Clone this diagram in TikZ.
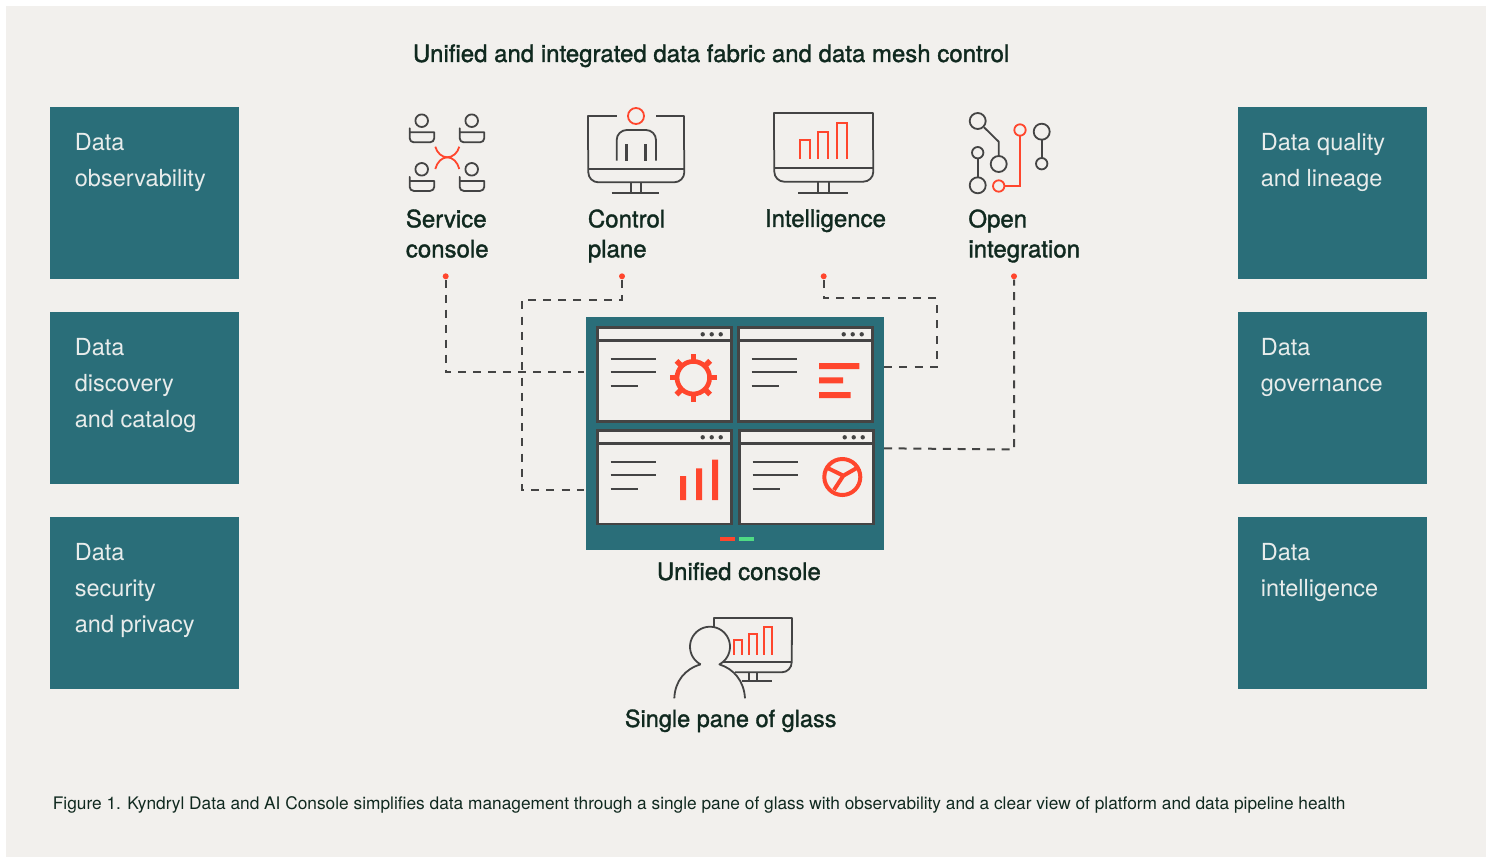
\documentclass[tikz,border=0pt]{standalone}
\usepackage{fontspec}
\setmainfont{TeX Gyre Heros}
\newfontfamily\labelfont[FakeBold=1.4]{TeX Gyre Heros}
\usetikzlibrary{positioning}

\definecolor{paper}{HTML}{F2F0ED}
\definecolor{teal}{HTML}{2A6E79}
\definecolor{ink}{HTML}{444444}
\definecolor{fire}{HTML}{FF462D}
\definecolor{leaf}{HTML}{4FDB84}
\definecolor{deep}{HTML}{10291F}
\definecolor{pale}{HTML}{E8ECEB}

\tikzset{
    tile/.style={fill=teal, text=pale, minimum width=94.5pt, minimum height=86pt, inner sep=0pt, outer sep=0pt},
    tiletext/.style={text=pale, font=\fontsize{11.75}{18}\selectfont, align=left, anchor=north west, inner sep=0pt},
    heading/.style={text=deep, font=\labelfont\fontsize{12}{15}\selectfont, align=left, anchor=north west, inner sep=0pt},
    icon/.style={draw=ink, line width=0.9pt, line join=round},
    hot/.style={draw=fire, line width=0.9pt},
    pin/.style={circle, fill=fire, inner sep=0pt, minimum size=3pt},
    dashline/.style={draw=ink, line width=1pt, dash pattern=on 4pt off 3.5pt},
    flame/.style={fill=fire},
}

\begin{document}
\begin{tikzpicture}[x=0.5pt, y=-0.5pt]

    % page
    \useasboundingbox (0,0) rectangle (1492,857);
    \fill[white] (0,0) rectangle (1492,857);
    \fill[paper] (6,6) rectangle (1486,857);

    % title
    \node[heading] (title) at (412.5,44) {Unified and integrated data fabric and data mesh control};

    % left column
    \node[tile, anchor=north west] (observe) at (50,107) {};
    \node[tile, below=16.5pt of observe] (discover) {};
    \node[tile, below=16.5pt of discover] (secure) {};
    \node[tiletext] (observe-text) at (74.5,132.8) {Data\\observability};
    \node[tiletext] (discover-text) at (74.5,337.8) {Data\\discovery\\and catalog};
    \node[tiletext] (secure-text) at (74.5,542.8) {Data\\security\\and privacy};

    % right column
    \node[tile, anchor=north west] (quality) at (1238,107) {};
    \node[tile, below=16.5pt of quality] (govern) {};
    \node[tile, below=16.5pt of govern] (intel) {};
    \node[tiletext] (quality-text) at (1260.5,132.8) {Data quality\\and lineage};
    \node[tiletext] (govern-text) at (1260.5,337.8) {Data\\governance};
    \node[tiletext] (intel-text) at (1260.5,542.8) {Data\\intelligence};

    % service console icon
    \foreach \px/\py in {421.7/120.7, 471.7/120.7, 421.7/169.3, 471.7/169.3} {
        \draw[icon] (\px,\py) circle (6.3);
        \draw[icon] (\px-12,\py+11.6) -- (\px+12.5,\py+11.6) [rounded corners=2pt] -- (\px+12.5,\py+21.6) -- (\px-12,\py+21.6) -- (\px-12,\py+11.6) [sharp corners] -- cycle;
    }
    \draw[hot] (435.3,146.7) .. controls (437,153) and (442,157.3) .. (447.3,157.3) .. controls (452.6,157.3) and (457.6,153) .. (459.3,146.7);
    \draw[hot] (435.3,169) .. controls (437,162) and (442,157.3) .. (447.3,157.3) .. controls (452.6,157.3) and (457.6,162) .. (459.3,169);
    \node[heading] (service) at (405.5,209) {Service\\console};

    % control plane icon
    \draw[icon] (616.7,115.7) -- (588.3,115.7) -- (588.3,150);
    \draw[icon] (656,115.7) -- (684.3,115.7) -- (684.3,150);
    \draw[icon, rounded corners=5pt] (588.3,150) -- (588.3,182.3) -- (684.3,182.3) -- (684.3,150);
    \draw[icon] (588.3,169) -- (684.3,169);
    \draw[icon] (630.7,182.3) -- (630.7,192.7) (640.7,182.3) -- (640.7,192.7) (611.7,192.7) -- (659.3,192.7);
    \draw[hot] (636,116) circle (8);
    \draw[icon, rounded corners=5pt] (616.7,160.7) -- (616.7,130) -- (656,130) -- (656,160.7);
    \draw[icon, line width=1.3pt] (626.7,144.3) -- (626.7,160.7) (645.3,144.3) -- (645.3,160.7);
    \node[heading] (control) at (587.5,209) {Control\\plane};

    % intelligence icon
    \draw[icon, rounded corners=5pt] (774.3,150) -- (774.3,181.7) -- (873.3,181.7) -- (873.3,150);
    \draw[icon] (774.3,150) -- (774.3,112.7) -- (873.3,112.7) -- (873.3,150);
    \draw[icon] (774.3,168.3) -- (873.3,168.3);
    \draw[icon] (818,181.7) -- (818,192.7) (829.3,181.7) -- (829.3,192.7) (798.3,192.7) -- (848.3,192.7);
    \foreach \bx/\btop in {799.7/139.7, 818/132, 837/123.3} {
        \draw[hot] (\bx,159) -- (\bx,\btop) -- (\bx+10,\btop) -- (\bx+10,159);
    }
    \node[heading] (intelligence) at (764.5,209) {Intelligence};

    % open integration icon
    \draw[icon] (977.7,121) circle (8) (998.7,164) circle (8) (977.7,152.7) circle (5.7) (977.7,185.3) circle (8) (1041.7,131.7) circle (8) (1041.7,163.7) circle (5.7);
    \draw[icon] (984,127.3) -- (998.7,141.7) -- (998.7,156);
    \draw[icon] (977.7,158.4) -- (977.7,177.3);
    \draw[icon] (1041.7,139.7) -- (1041.7,158);
    \draw[hot] (998.7,186) circle (5.7) (1020,130) circle (5.7);
    \draw[hot] (1004.4,186) -- (1020,186) -- (1020,135.7);
    \node[heading] (openint) at (968,209) {Open\\integration};

    % unified console
    \node[fill=teal, minimum width=149pt, minimum height=116.5pt, inner sep=0pt, outer sep=0pt, anchor=north west] (console) at (586,317) {};
    \foreach \wx/\wy/\wb/\wd/\wt in {597.5/327.5/421.5/702.7/610.7, 738.5/327.5/421.5/843.7/751.7, 597.5/430.5/524/702.7/610.7, 739.5/430.5/524/844.7/752.7} {
        \draw[ink, fill=paper, line width=1.4pt] (\wx,\wy) rectangle (\wx+134,\wb);
        \draw[ink, line width=1.4pt] (\wx,\wy+13.2) -- (\wx+134,\wy+13.2);
        \foreach \n in {0,9,18} \fill[ink] (\wd+\n,\wy+6.8) circle (2.2);
        \draw[ink, line width=1pt] (\wt,\wy+31.5) -- (\wt+45,\wy+31.5) (\wt,\wy+44.8) -- (\wt+45,\wy+44.8) (\wt,\wy+58.5) -- (\wt+27,\wy+58.5);
    }
    % gear
    \coordinate (gear) at (693.3,377.7);
    \draw[fire, line width=2.35pt] (gear) circle (16.3);
    \foreach \a in {0,45,...,315} \draw[fire, line width=2.7pt] ([shift={(\a:17)}]gear) -- ([shift={(\a:23.8)}]gear);
    % bars
    \fill[flame] (819,363) rectangle (859.3,369) (819,377.3) rectangle (843,383.3) (819,392) rectangle (850.7,398);
    % chart
    \fill[flame] (680,476) rectangle (686,500) (696,468.3) rectangle (702,500) (712,459.7) rectangle (718,500);
    % wheel
    \draw[fire, line width=2pt] (842.3,477) circle (18);
    \draw[fire, line width=2pt] (828.3,468.3) -- (843.3,475.7) -- (857.3,467.7) (843.3,475.7) -- (834,490);
    % status marks
    \fill[fire] (720,537) rectangle (735,541);
    \fill[leaf] (739,537) rectangle (754,541);
    \node[heading] (console-text) at (656.5,562) {Unified console};

    % connectors
    \node[pin] (pin-service) at (445.7,276.3) {};
    \node[pin] (pin-control) at (622,276.3) {};
    \node[pin] (pin-intel) at (823.7,276.3) {};
    \node[pin] (pin-open) at (1014,276.3) {};
    \coordinate (in-service) at (584,372);
    \coordinate (turn-control) at (521.7,300);
    \coordinate (in-control) at (584,490);
    \coordinate (turn-intel) at (937,298.3);
    \coordinate (in-intel) at (884,367.3);
    \coordinate (turn-open) at (1014,449.5);
    \coordinate (in-open) at (884,448.3);
    \draw[dashline] (pin-service) |- (in-service);
    \draw[dashline, dash pattern=on 4pt off 3.62pt] (pin-control) |- (turn-control) |- (in-control);
    \draw[dashline, dash pattern=on 4pt off 3.67pt] (in-intel) -| (turn-intel) -| (pin-intel);
    \draw[dashline, dash pattern=on 4pt off 3.35pt] (in-open) -- (turn-open) -- (pin-open);

    % single pane of glass
    \draw[icon, rounded corners=5pt] (791.7,640) -- (791.7,672.3) -- (735,672.3);
    \draw[icon] (714,627.3) -- (714,618.3) -- (791.7,618.3) -- (791.7,645);
    \draw[icon] (722,662) -- (791.7,662);
    \draw[icon] (748.7,672.3) -- (748.7,681) (757,672.3) -- (757,681) (741.7,681) -- (771.7,681);
    \foreach \bx/\btop in {733.7/639.7, 748.7/633.7, 763.7/626.7} {
        \draw[hot] (\bx,654.7) -- (\bx,\btop) -- (\bx+8,\btop) -- (\bx+8,654.7);
    }
    \draw[icon, fill=paper] (674.3,698.3) .. controls (675,681) and (685,669) .. (700.7,664.3)
        plot[domain=118:422, samples=40] ({710+20*cos(\x)},{646.7+20*sin(\x)})
        .. controls (734,669) and (744,681) .. (745,698.3);
    \node[heading, font=\labelfont\fontsize{11.75}{15}\selectfont] (pane-text) at (624.5,709) {Single pane of glass};

    % caption
    \node[text=deep, font=\fontsize{8.65}{10}\selectfont, anchor=north west, inner sep=0pt] (caption) at (52.5,796) {Figure 1. Kyndryl Data and AI Console simplifies data management through a single pane of glass with observability and a clear view of platform and data pipeline health};

\end{tikzpicture}
\end{document}
